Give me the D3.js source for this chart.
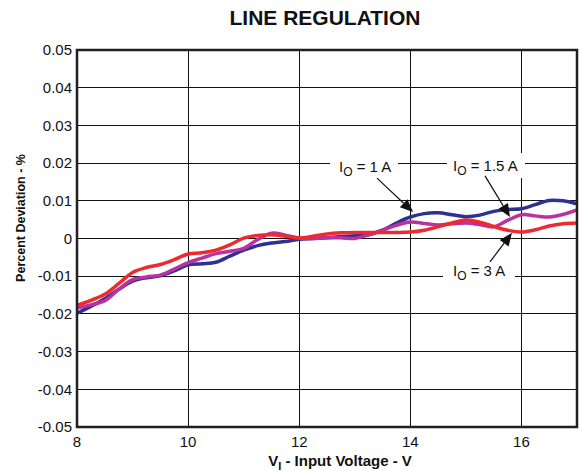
<!DOCTYPE html>
<html><head><meta charset="utf-8">
<script src="https://cdn.jsdelivr.net/npm/d3@7/dist/d3.min.js"></script>
<style>body{margin:0;background:#fff;}svg{display:block;font-family:"Liberation Sans",Arial,sans-serif;}</style>
</head><body>
<svg id="c" width="579" height="471"></svg>
<script>
const voltage = [8,8.25,8.5,8.75,9,9.25,9.5,9.75,10,10.25,10.5,10.75,11,11.25,11.5,11.75,12,12.25,12.5,12.75,13,13.25,13.5,13.75,14,14.25,14.5,14.75,15,15.25,15.5,15.75,16,16.25,16.5,16.75,17];
const dev1A = [-0.0198,-0.0180,-0.0160,-0.0135,-0.0113,-0.0104,-0.0099,-0.0086,-0.0070,-0.0067,-0.0063,-0.0047,-0.0031,-0.0019,-0.0012,-0.0008,-0.0002,0.0000,0.0002,0.0005,0.0007,0.0010,0.0022,0.0041,0.0057,0.0066,0.0068,0.0063,0.0058,0.0062,0.0072,0.0077,0.0079,0.0090,0.0101,0.0100,0.0092];
const dev15A = [-0.0184,-0.0176,-0.0165,-0.0135,-0.0109,-0.0102,-0.0097,-0.0081,-0.0064,-0.0052,-0.0040,-0.0034,-0.0026,-0.0003,0.0014,0.0009,0.0001,0.0000,0.0002,0.0002,0.0000,0.0010,0.0022,0.0035,0.0044,0.0040,0.0036,0.0039,0.0041,0.0037,0.0031,0.0048,0.0063,0.0060,0.0057,0.0064,0.0076];
const dev3A = [-0.0177,-0.0164,-0.0148,-0.0120,-0.0090,-0.0077,-0.0069,-0.0056,-0.0041,-0.0038,-0.0031,-0.0017,0.0001,0.0008,0.0010,0.0006,0.0001,0.0006,0.0012,0.0015,0.0016,0.0016,0.0016,0.0016,0.0017,0.0022,0.0031,0.0041,0.0049,0.0043,0.0032,0.0022,0.0017,0.0023,0.0033,0.0039,0.0041];
const xTicks = [8,10,12,14,16];
const yTicks = [-0.05,-0.04,-0.03,-0.02,-0.01,0,0.01,0.02,0.03,0.04,0.05];
const yTickLabels = ["-0.05","-0.04","-0.03","-0.02","-0.01","0","0.01","0.02","0.03","0.04","0.05"];
const seriesNames = ["1 A","1.5 A","3 A"];
const seriesColors = ["#2e3192","#b9329f","#ee2a2f"];
// annotations: label anchor (V, %), arrow start and tip (V, %)
const annLabelV = [12.716, 14.768, 14.768];
const annLabelY = [0.0176, 0.0179, -0.0099];
const annFromV = [13.40, 15.344, 15.434];
const annFromY = [0.0160, 0.0166, -0.0062];
const annTipV = [14.05, 15.794, 15.83];
const annTipY = [0.0070, 0.0057, 0.0015];

const svg = d3.select("#c");
const L = 77, R = 577, T = 50, B = 427;
const x = d3.scaleLinear().domain([8,17]).range([L,R]);
const y = d3.scaleLinear().domain([-0.05,0.05]).range([B,T]);

// grid
svg.append("g").selectAll("line").data(yTicks.slice(1,-1)).join("line")
  .attr("x1",L).attr("x2",R).attr("y1",d=>y(d)).attr("y2",d=>y(d))
  .attr("stroke","#111").attr("stroke-width",1).attr("shape-rendering","crispEdges");
svg.append("g").selectAll("line").data(xTicks.slice(1)).join("line")
  .attr("x1",d=>x(d)).attr("x2",d=>x(d)).attr("y1",T).attr("y2",B)
  .attr("stroke","#111").attr("stroke-width",1).attr("shape-rendering","crispEdges");

// white label backgrounds (break gridlines)
const boxes = [[330,398,-18,7],[447,525,-18,7],[443,515,-18,6]];
svg.append("g").selectAll("rect").data(annLabelV).join("rect")
  .attr("x",(d,i)=>boxes[i][0]).attr("width",(d,i)=>boxes[i][1]-boxes[i][0])
  .attr("y",(d,i)=>y(annLabelY[i])+boxes[i][2]).attr("height",(d,i)=>boxes[i][3]-boxes[i][2])
  .attr("fill","#fff");

// lines
svg.append("clipPath").attr("id","clip").append("rect").attr("x",L).attr("y",T).attr("width",R-L).attr("height",B-T);
const line = d3.line().x(d=>x(d[0])).y(d=>y(d[1])).curve(d3.curveCatmullRom.alpha(0.5));
const allSeries = [dev1A, dev15A, dev3A];
svg.append("g").attr("clip-path","url(#clip)").selectAll("path").data(allSeries).join("path")
  .attr("d",s=>line(voltage.map((v,i)=>[v,s[i]])))
  .attr("fill","none").attr("stroke",(d,i)=>seriesColors[i]).attr("stroke-width",3.5)
  .attr("stroke-linejoin","round").attr("stroke-linecap","round");

// frame
svg.append("rect").attr("x",L).attr("y",T).attr("width",R-L).attr("height",B-T)
  .attr("fill","none").attr("stroke","#231f20").attr("stroke-width",2.5);

// tick labels
svg.append("g").selectAll("text").data(yTicks).join("text")
  .attr("x",72).attr("y",d=>y(d)).attr("dy","0.35em").attr("text-anchor","end")
  .attr("font-size",15).attr("fill","#111").text((d,i)=>yTickLabels[i]);
svg.append("g").selectAll("text").data(xTicks).join("text")
  .attr("x",d=>x(d)).attr("y",447).attr("text-anchor","middle")
  .attr("font-size",15).attr("fill","#111").text(d=>d);

// titles
svg.append("text").attr("x",325).attr("y",25).attr("text-anchor","middle")
  .attr("font-size",21).attr("font-weight","bold").attr("fill","#111").text("LINE REGULATION");
const xt = svg.append("text").attr("x",340).attr("y",466).attr("text-anchor","middle")
  .attr("font-size",15).attr("font-weight","bold").attr("fill","#111");
xt.append("tspan").text("V");
xt.append("tspan").attr("font-size",11).attr("dy",4).text("I");
xt.append("tspan").attr("dy",-4).text(" - Input Voltage - V");
svg.append("text").attr("transform","translate(25,218) rotate(-90)").attr("text-anchor","middle")
  .attr("font-size",12.5).attr("font-weight","bold").attr("fill","#111").text("Percent Deviation - %");

// annotations
const ag = svg.append("g");
seriesNames.forEach((nm,i)=>{
  const t = ag.append("text").attr("x",x(annLabelV[i])).attr("y",y(annLabelY[i]))
    .attr("font-size",15).attr("fill","#111");
  t.append("tspan").text("I");
  t.append("tspan").attr("font-size",12).attr("dy",4).text("O");
  t.append("tspan").attr("dy",-4).text(" = " + nm);
  const x0 = x(annFromV[i]), y0 = y(annFromY[i]), x1 = x(annTipV[i]), y1 = y(annTipY[i]);
  const ang = Math.atan2(y1-y0, x1-x0);
  const hl = 13, hw = 5.5;
  const bx = x1 - hl*Math.cos(ang), by = y1 - hl*Math.sin(ang);
  ag.append("line").attr("x1",x0).attr("y1",y0).attr("x2",bx).attr("y2",by)
    .attr("stroke","#111").attr("stroke-width",1.2);
  const px = -Math.sin(ang), py = Math.cos(ang);
  ag.append("path").attr("d",`M${x1},${y1}L${bx+hw*px},${by+hw*py}L${bx-hw*px},${by-hw*py}Z`)
    .attr("fill","#111");
});
</script>
</body></html>
